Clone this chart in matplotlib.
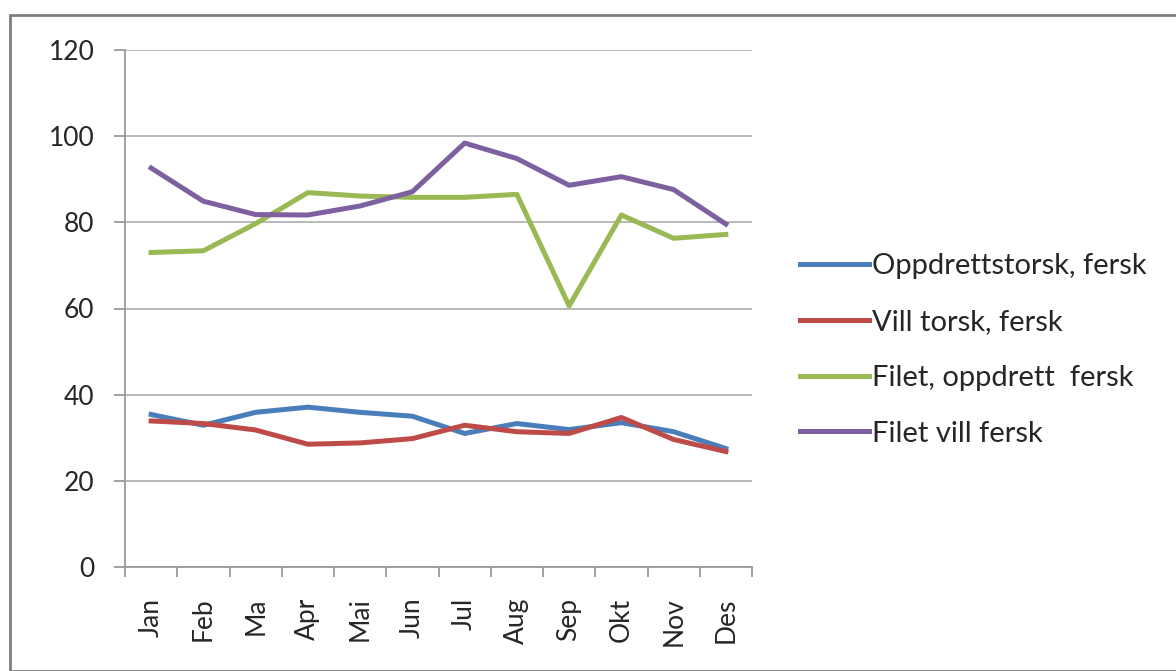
import matplotlib.pyplot as plt
from matplotlib.patches import Rectangle

months = ['Jan', 'Feb', 'Ma', 'Apr', 'Mai', 'Jun', 'Jul', 'Aug', 'Sep', 'Okt', 'Nov', 'Des']
oppdrett_torsk = [35.4, 32.9, 35.9, 37.1, 35.9, 35.0, 31.0, 33.3, 31.9, 33.5, 31.4, 27.5]
vill_torsk = [33.9, 33.3, 31.8, 28.5, 28.8, 29.8, 32.9, 31.4, 31.0, 34.7, 29.6, 26.8]
filet_oppdrett = [73.0, 73.4, 79.7, 86.9, 86.1, 85.8, 85.8, 86.5, 60.6, 81.7, 76.3, 77.2]
filet_vill = [92.6, 84.9, 81.8, 81.7, 83.8, 87.1, 98.4, 94.8, 88.6, 90.6, 87.6, 79.6]

series = [
    ('Oppdrettstorsk, fersk', oppdrett_torsk, '#4A7EBB'),
    ('Vill torsk, fersk', vill_torsk, '#BE4B48'),
    ('Filet, oppdrett  fersk', filet_oppdrett, '#98B954'),
    ('Filet vill fersk', filet_vill, '#7D60A0'),
]

plt.rcParams['font.family'] = ['Lato', 'DejaVu Sans']
txt_color = '#262626'

fig = plt.figure(figsize=(11.76, 6.71), dpi=100)
fig.patches.append(Rectangle((10 / 1176, 0), 1.2, 1 - 15 / 671, transform=fig.transFigure,
                             fill=False, edgecolor='#7f7f7f', linewidth=2))
ax = fig.add_axes([125 / 1176, 1 - 567 / 671, 627 / 1176, 517 / 671])

x = range(len(months))
for name, vals, color in series:
    ax.plot(x, vals, color=color, linewidth=3.6, label=name)

ax.set_xlim(-0.5, 11.5)
ax.set_ylim(0, 120)
ax.set_yticks(range(0, 121, 20))
ax.yaxis.grid(True, color='#b3b3b3', linewidth=1.3)
ax.set_axisbelow(True)
for s in ['top', 'right']:
    ax.spines[s].set_visible(False)
for s in ['left', 'bottom']:
    ax.spines[s].set_color('#9a9a9a')
    ax.spines[s].set_linewidth(1.3)

ax.set_xticks(list(x))
ax.set_xticklabels(months, rotation=90)
ax.set_xticks([i - 0.5 for i in range(13)], minor=True)
ax.tick_params(axis='x', which='major', length=0, pad=22, labelsize=19, labelcolor=txt_color)
ax.tick_params(axis='x', which='minor', length=7, width=1.3, color='#9a9a9a')
ax.tick_params(axis='y', length=8, width=1.3, color='#9a9a9a', labelsize=19, pad=14,
               labelcolor=txt_color)

leg = fig.legend(loc='center left', bbox_to_anchor=(774 / 1176, 1 - 350 / 671), frameon=False,
                 fontsize=21, handlelength=2.35, handletextpad=0.1, labelspacing=1.02)
for t in leg.get_texts():
    t.set_color(txt_color)

fig.savefig('out.png', dpi=100)
